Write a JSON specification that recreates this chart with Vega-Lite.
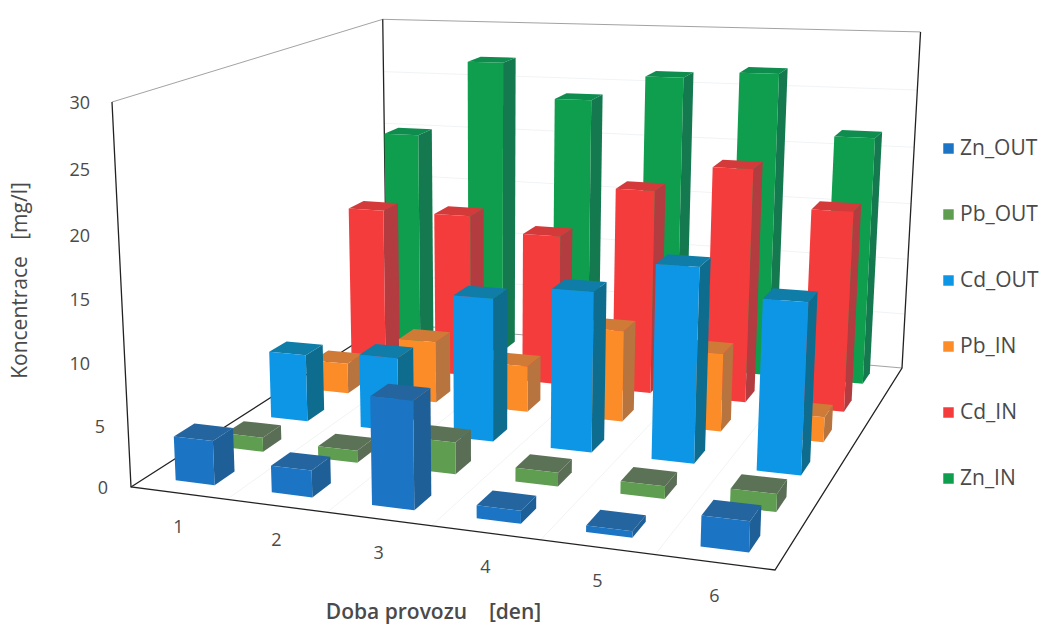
{
"$schema":"https://vega.github.io/schema/vega-lite/v6.json",
"width":1045,"height":624,"padding":0,"autosize":{"type":"none"},"background":"white",
"config":{"view":{"stroke":null}},
"datasets":{
"bars":[
{"series":"Zn_IN","day":1,"value":20.1},{"series":"Zn_IN","day":2,"value":27.1},{"series":"Zn_IN","day":3,"value":24},{"series":"Zn_IN","day":4,"value":26.3},{"series":"Zn_IN","day":5,"value":26.9},{"series":"Zn_IN","day":6,"value":21.7},
{"series":"Cd_IN","day":1,"value":14.7},{"series":"Cd_IN","day":2,"value":14.7},{"series":"Cd_IN","day":3,"value":13.4},{"series":"Cd_IN","day":4,"value":17.9},{"series":"Cd_IN","day":5,"value":20.2},{"series":"Cd_IN","day":6,"value":17.1},
{"series":"Pb_IN","day":1,"value":2.7},{"series":"Pb_IN","day":2,"value":5.4},{"series":"Pb_IN","day":3,"value":4},{"series":"Pb_IN","day":4,"value":7.8},{"series":"Pb_IN","day":5,"value":6.6},{"series":"Pb_IN","day":6,"value":2.1},
{"series":"Cd_OUT","day":1,"value":5.8},{"series":"Cd_OUT","day":2,"value":6.3},{"series":"Cd_OUT","day":3,"value":12},{"series":"Cd_OUT","day":4,"value":13.2},{"series":"Cd_OUT","day":5,"value":15.8},{"series":"Cd_OUT","day":6,"value":13.7},
{"series":"Pb_OUT","day":1,"value":1.2},{"series":"Pb_OUT","day":2,"value":1},{"series":"Pb_OUT","day":3,"value":2.6},{"series":"Pb_OUT","day":4,"value":1.1},{"series":"Pb_OUT","day":5,"value":1},{"series":"Pb_OUT","day":6,"value":1.4},
{"series":"Zn_OUT","day":1,"value":3.6},{"series":"Zn_OUT","day":2,"value":2.15},{"series":"Zn_OUT","day":3,"value":8.5},{"series":"Zn_OUT","day":4,"value":1},{"series":"Zn_OUT","day":5,"value":0.5},{"series":"Zn_OUT","day":6,"value":2.3}
],
"edges":[
{"edge":"f1","kind":"frame","k":0,"day":0,"depth":0,"value":30},{"edge":"f1","kind":"frame","k":1,"day":0,"depth":0,"value":0},{"edge":"f1","kind":"frame","k":2,"day":6,"depth":0,"value":0},{"edge":"f1","kind":"frame","k":3,"day":6,"depth":6,"value":0},{"edge":"f1","kind":"frame","k":4,"day":6,"depth":6,"value":30},
{"edge":"f2","kind":"frame","k":0,"day":0,"depth":0,"value":0},{"edge":"f2","kind":"frame","k":1,"day":0,"depth":6,"value":0},{"edge":"f2","kind":"frame","k":2,"day":0,"depth":6,"value":30},
{"edge":"t1","kind":"thin","k":0,"day":0,"depth":0,"value":30},{"edge":"t1","kind":"thin","k":1,"day":0,"depth":6,"value":30},{"edge":"t1","kind":"thin","k":2,"day":6,"depth":6,"value":30},
{"edge":"t2","kind":"thin","k":0,"day":0,"depth":6,"value":0},{"edge":"t2","kind":"thin","k":1,"day":6,"depth":6,"value":0},
{"edge":"u1","kind":"grid","k":0,"day":1,"depth":0,"value":0},{"edge":"u1","kind":"grid","k":1,"day":1,"depth":6,"value":0},
{"edge":"u2","kind":"grid","k":0,"day":2,"depth":0,"value":0},{"edge":"u2","kind":"grid","k":1,"day":2,"depth":6,"value":0},
{"edge":"u3","kind":"grid","k":0,"day":3,"depth":0,"value":0},{"edge":"u3","kind":"grid","k":1,"day":3,"depth":6,"value":0},
{"edge":"u4","kind":"grid","k":0,"day":4,"depth":0,"value":0},{"edge":"u4","kind":"grid","k":1,"day":4,"depth":6,"value":0},
{"edge":"u5","kind":"grid","k":0,"day":5,"depth":0,"value":0},{"edge":"u5","kind":"grid","k":1,"day":5,"depth":6,"value":0},
{"edge":"z1","kind":"grid","k":0,"day":0,"depth":6,"value":5},{"edge":"z1","kind":"grid","k":1,"day":6,"depth":6,"value":5},
{"edge":"z2","kind":"grid","k":0,"day":0,"depth":6,"value":10},{"edge":"z2","kind":"grid","k":1,"day":6,"depth":6,"value":10},
{"edge":"z3","kind":"grid","k":0,"day":0,"depth":6,"value":15},{"edge":"z3","kind":"grid","k":1,"day":6,"depth":6,"value":15},
{"edge":"z4","kind":"grid","k":0,"day":0,"depth":6,"value":20},{"edge":"z4","kind":"grid","k":1,"day":6,"depth":6,"value":20},
{"edge":"z5","kind":"grid","k":0,"day":0,"depth":6,"value":25},{"edge":"z5","kind":"grid","k":1,"day":6,"depth":6,"value":25}
],
"zticks":[{"tick":0},{"tick":5},{"tick":10},{"tick":15},{"tick":20},{"tick":25},{"tick":30}],
"days":[{"day":1},{"day":2},{"day":3},{"day":4},{"day":5},{"day":6}]
},
"encoding":{
"x":{"field":"px","type":"quantitative","scale":{"domain":[0,1045],"range":[0,1045],"nice":false,"zero":false},"axis":{"title":"Doba provozu\u00a0\u00a0\u00a0\u00a0[den]","labels":false,"ticks":false,"domain":false,"grid":false,"titleX":433,"titleY":-12,"titleFontSize":21,"titleFont":"Open Sans","titleFontWeight":600,"titleColor":"#4a4a4a","titleAnchor":"middle","titleAlign":"center","titleBaseline":"middle"}},
"y":{"field":"py","type":"quantitative","scale":{"domain":[0,624],"range":[0,624],"nice":false,"zero":false},"axis":{"title":"Koncentrace\u00a0\u00a0\u00a0[mg/l]","labels":false,"ticks":false,"domain":false,"grid":false,"titleX":20,"titleY":280,"titleFontSize":21,"titleFont":"Open Sans","titleFontWeight":"normal","titleColor":"#4a4a4a","titleAlign":"center","titleBaseline":"middle"}}
},
"layer":[
{"data":{"name":"edges"},
"transform":[{"filter":"datum.kind==='grid'"},
{"calculate":"datum.day/6","as":"uu"},{"calculate":"datum.depth/6","as":"vv"},{"calculate":"datum.value/30","as":"ww"},
{"calculate":"1-.12543*datum.uu+.28142*datum.vv-.05*datum.ww","as":"dn"},
{"calculate":"(546.8*datum.uu+364.9*datum.vv-24.6*datum.ww+131)/datum.dn","as":"px"},
{"calculate":"(11.5*datum.uu-73.1*datum.vv-390.1*datum.ww+487)/datum.dn","as":"py"}],
"mark":{"type":"line","stroke":"#f1f3f5","strokeWidth":1},
"encoding":{"detail":{"field":"edge"},"order":{"field":"k"}}},
{"data":{"name":"edges"},
"transform":[{"filter":"datum.kind==='thin'"},
{"calculate":"datum.day/6","as":"uu"},{"calculate":"datum.depth/6","as":"vv"},{"calculate":"datum.value/30","as":"ww"},
{"calculate":"1-.12543*datum.uu+.28142*datum.vv-.05*datum.ww","as":"dn"},
{"calculate":"(546.8*datum.uu+364.9*datum.vv-24.6*datum.ww+131)/datum.dn","as":"px"},
{"calculate":"(11.5*datum.uu-73.1*datum.vv-390.1*datum.ww+487)/datum.dn","as":"py"}],
"mark":{"type":"line","stroke":"#8a8a8a","strokeWidth":0.8},
"encoding":{"detail":{"field":"edge"},"order":{"field":"k"}}},
{"data":{"name":"edges"},
"transform":[{"filter":"datum.kind==='frame'"},
{"calculate":"datum.day/6","as":"uu"},{"calculate":"datum.depth/6","as":"vv"},{"calculate":"datum.value/30","as":"ww"},
{"calculate":"1-.12543*datum.uu+.28142*datum.vv-.05*datum.ww","as":"dn"},
{"calculate":"(546.8*datum.uu+364.9*datum.vv-24.6*datum.ww+131)/datum.dn","as":"px"},
{"calculate":"(11.5*datum.uu-73.1*datum.vv-390.1*datum.ww+487)/datum.dn","as":"py"}],
"mark":{"type":"line","stroke":"#222222","strokeWidth":1.3},
"encoding":{"detail":{"field":"edge"},"order":{"field":"k"}}},
{"data":{"name":"bars"},
"transform":[
{"calculate":"[{f:'side',o:0,a:1,b:-1,t:0},{f:'side',o:1,a:1,b:1,t:0},{f:'side',o:2,a:1,b:1,t:1},{f:'side',o:3,a:1,b:-1,t:1},{f:'top',o:0,a:-1,b:-1,t:1},{f:'top',o:1,a:1,b:-1,t:1},{f:'top',o:2,a:1,b:1,t:1},{f:'top',o:3,a:-1,b:1,t:1},{f:'front',o:0,a:-1,b:-1,t:0},{f:'front',o:1,a:1,b:-1,t:0},{f:'front',o:2,a:1,b:-1,t:1},{f:'front',o:3,a:-1,b:-1,t:1}]","as":"verts"},
{"flatten":["verts"]},
{"calculate":"indexof(['Zn_OUT','Pb_OUT','Cd_OUT','Pb_IN','Cd_IN','Zn_IN'],datum.series)","as":"s"},
{"calculate":"(datum.day-.49+.205*datum.verts.a)/6","as":"uu"},
{"calculate":"(datum.s+.5+.2*datum.verts.b)/6","as":"vv"},
{"calculate":"datum.verts.t*datum.value/30","as":"ww"},
{"calculate":"1-.12543*datum.uu+.28142*datum.vv-.05*datum.ww","as":"dn"},
{"calculate":"(546.8*datum.uu+364.9*datum.vv-24.6*datum.ww+131)/datum.dn","as":"px"},
{"calculate":"(11.5*datum.uu-73.1*datum.vv-390.1*datum.ww+487)/datum.dn","as":"py"},
{"calculate":"datum.series+'_'+datum.day+'_'+datum.verts.f","as":"facekey"},
{"calculate":"{Zn_OUT:{front:'#1b75c4',side:'#1d5f96',top:'#24659f'},Pb_OUT:{front:'#5f9e50',side:'#5a6e56',top:'#5c7257'},Cd_OUT:{front:'#0e96e6',side:'#0e6d8e',top:'#0f7da8'},Pb_IN:{front:'#fb8c28',side:'#b8743f',top:'#d07a38'},Cd_IN:{front:'#f53c3c',side:'#b23c40',top:'#d43a3a'},Zn_IN:{front:'#0f9e4e',side:'#14794f',top:'#0f8d4e'}}[datum.series][datum.verts.f]","as":"shade"},
{"calculate":"datum.verts.o","as":"vo"}],
"mark":{"type":"line","filled":true,"strokeWidth":0},
"encoding":{"detail":{"field":"facekey"},"order":{"field":"vo"},"fill":{"field":"shade","type":"nominal","scale":null,"legend":null}}},
{"data":{"name":"zticks"},
"transform":[{"calculate":"datum.tick/30","as":"ww"},
{"calculate":"1-.05*datum.ww","as":"dn"},
{"calculate":"(131-24.6*datum.ww)/datum.dn","as":"wx"},
{"calculate":"(487-390.1*datum.ww)/datum.dn","as":"py"},
{"calculate":"datum.tick<10?datum.wx-23:90","as":"px"}],
"mark":{"type":"text","align":"right","baseline":"middle","dy":2,"font":"Open Sans","fontSize":18,"color":"#4a4a4a"},
"encoding":{"text":{"field":"tick","type":"nominal"}}},
{"data":{"name":"days"},
"transform":[{"calculate":"(datum.day-.5)/6","as":"uu"},
{"calculate":"1-.12543*datum.uu","as":"dn"},
{"calculate":"(546.8*datum.uu+131)/datum.dn","as":"px"},
{"calculate":"(11.5*datum.uu+487)/datum.dn","as":"py"}],
"mark":{"type":"text","align":"center","baseline":"middle","dy":35,"font":"Open Sans","fontSize":18,"color":"#4a4a4a"},
"encoding":{"text":{"field":"day","type":"nominal"}}},
{"data":{"name":"bars"},
"transform":[{"filter":"datum.value<0"}],
"mark":{"type":"square","size":100},
"encoding":{
"color":{"field":"series","type":"nominal","scale":{"domain":["Zn_OUT","Pb_OUT","Cd_OUT","Pb_IN","Cd_IN","Zn_IN"],"range":["#1b75c4","#5f9e50","#0e96e6","#fb8c28","#f53c3c","#0f9e4e"]},
"legend":{"title":null,"orient":"none","legendX":938,"legendY":138,"symbolType":"square","symbolSize":110,"symbolOpacity":1,"symbolStrokeWidth":0,"labelFont":"Open Sans","labelFontSize":21,"labelColor":"#4a4a4a","labelOffset":1,"rowPadding":44,"labelLimit":110}}}}
]
}
